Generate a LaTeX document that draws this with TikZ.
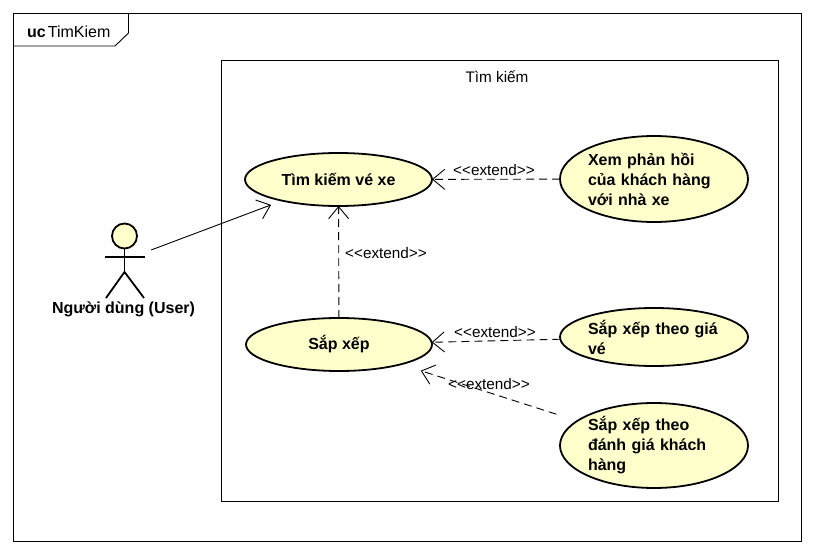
\documentclass[tikz,border=0pt]{standalone}
\usepackage{fontspec}
\setmainfont{Liberation Sans}
\usetikzlibrary{shapes.geometric,arrows.meta}
\definecolor{ucfill}{HTML}{FFFFCC}
\newcommand{\exttag}{{<}{<}extend{>}{>}}
\tikzset{
  usecase/.style={ellipse,draw=black,line width=1.8pt,fill=ucfill,inner sep=0pt,outer sep=0pt,font=\fontsize{16}{20}\selectfont\bfseries},
  multi/.style={text width=132pt,align=left},
  tag/.style={font=\fontsize{15.3}{18}\selectfont,inner sep=0pt},
  thin line/.style={line width=0.9pt,draw=black},
  openarrow/.style={-{Straight Barb[length=12pt,width=20pt,line width=0.9pt]}},
  extendline/.style={thin line,openarrow,dash pattern=on 8pt off 5pt},
  person/.style={line width=1.8pt,draw=black}
}
\begin{document}
\begin{tikzpicture}[x=1pt,y=-1pt]
\useasboundingbox (0,0) rectangle (813,553);
\fill[white] (0,0) rectangle (813,553);
% frame
\draw[thin line] (13.5,13.5) rectangle (801,541);
\draw[thin line] (13.5,46) -- (115,46) -- (128.5,33) -- (128.5,13.5);
\node[anchor=west,inner sep=0pt,font=\fontsize{16}{18}\selectfont] (frametitle) at (27,31.5) {\textbf{uc}\hspace{2pt}TimKiem};
% system boundary
\draw[thin line] (221,60) rectangle (778,501);
\node[tag] (systitle) at (497,77) {Tìm kiếm};
% use cases
\node[usecase,minimum width=187pt,minimum height=53pt] (search) at (338.5,179.5) {Tìm kiếm vé xe};
\node[usecase,minimum width=186pt,minimum height=53pt] (sort) at (339,344.5) {Sắp xếp};
\node[usecase,multi,minimum width=188pt,minimum height=86pt] (feedback) at (654,179) {Xem phản hồi\\của khách hàng\\với nhà xe};
\node[usecase,multi,minimum width=188pt,minimum height=58pt] (byprice) at (654,337) {Sắp xếp theo giá\\vé};
\node[usecase,multi,minimum width=188pt,minimum height=85pt] (byrating) at (654,445.5) {Sắp xếp theo\\đánh giá khách\\hàng};
% actor
\node[draw=none,minimum width=53pt,minimum height=75pt,inner sep=0pt] (actor) at (124.5,260) {};
\node[circle,draw=black,line width=1.8pt,fill=ucfill,minimum size=25pt,inner sep=0pt] (head) at (124.5,236) {};
\coordinate (hip) at (124.5,272);
\coordinate (armL) at (105,257);
\coordinate (armR) at (145,257);
\coordinate (legL) at (106,298);
\coordinate (legR) at (144,298);
\draw[person] (head) -- (hip);
\draw[person] (armL) -- (armR);
\draw[person] (legL) -- (hip) -- (legR);
\node[inner sep=0pt,font=\fontsize{16}{20}\selectfont\bfseries] (actorname) at (123.5,309) {Người dùng (User)};
% connectors
\draw[thin line,openarrow,shorten >=12pt] (actor) -- (search);
\draw[extendline] (feedback) -- (search);
\draw[extendline] (sort) -- (search);
\draw[extendline] (byprice) -- (sort);
\draw[extendline,shorten >=21pt,shorten <=22pt] (byrating) -- (sort);
% labels
\node[tag] (l1) at (494,170) {\exttag};
\node[tag] (l2) at (386,253) {\exttag};
\node[tag] (l3) at (495,332) {\exttag};
\node[tag] (l4) at (489,384) {\exttag};
\end{tikzpicture}
\end{document}
